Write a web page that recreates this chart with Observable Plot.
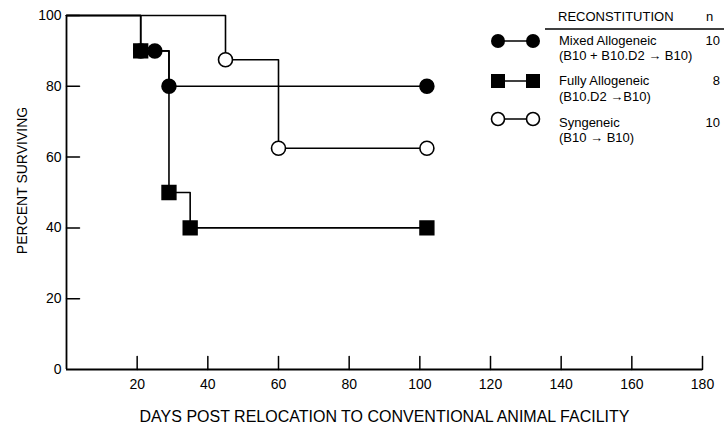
<!DOCTYPE html>
<html>
<head>
<meta charset="utf-8">
<script src="https://cdn.jsdelivr.net/npm/d3@7"></script>
<script src="https://cdn.jsdelivr.net/npm/@observablehq/plot@0.6"></script>
<style>
  html, body { margin: 0; padding: 0; background: #fff; }
  #wrap { position: relative; width: 724px; height: 423px; font-family: "Liberation Sans", Arial, Helvetica, sans-serif; color: #000; }
  #legend { position: absolute; left: 0; top: 0; width: 724px; height: 150px; pointer-events: none; }
  .lt { position: absolute; font-size: 13px; line-height: 1; white-space: nowrap; }
</style>
</head>
<body>
<div id="wrap"></div>
<script>
// ---- data ----
const seriesNames = ["Mixed Allogeneic", "Fully Allogeneic", "Syngeneic"];
const seriesSub = ["(B10 + B10.D2 \u2192 B10)", "(B10.D2 \u2192B10)", "(B10 \u2192 B10)"];
const seriesN = [10, 8, 10];

const mixedDays = [0, 21, 25, 29, 102];
const mixedPct  = [100, 90, 90, 80, 80];

const fullyDays = [0, 21, 29, 35, 102];
const fullyPct  = [100, 90, 50, 40, 40];

const synDays = [0, 45, 60, 102];
const synPct  = [100, 87.5, 62.5, 62.5];

const xTicks = [20, 40, 60, 80, 100, 120, 140, 160, 180];
const yTicks = [0, 20, 40, 60, 80, 100];

// ---- build table ----
function rows(name, days, pct) {
  return days.map((d, i) => ({series: name, day: d, pct: pct[i]}));
}
const mixed = rows(seriesNames[0], mixedDays, mixedPct);
const fully = rows(seriesNames[1], fullyDays, fullyPct);
const syn = rows(seriesNames[2], synDays, synPct);
const all = [...mixed, ...fully, ...syn];
const marks = (arr) => arr.filter(d => d.day > 0);

const spike = {draw(context, l) { context.moveTo(0, 0); context.lineTo(0, -l); }};

const chart = Plot.plot({
  width: 724,
  height: 423,
  marginLeft: 66,
  marginRight: 22,
  marginTop: 15,
  marginBottom: 54,
  style: {fontFamily: "'Liberation Sans', Arial, sans-serif", background: "#fff", color: "#000"},
  x: {domain: [0, 180]},
  y: {domain: [0, 100]},
  marks: [
    Plot.ruleX([0], {y1: 0, y2: 100, stroke: "black", strokeWidth: 1.8}),
    Plot.ruleY([0], {x1: 0, x2: 180, stroke: "black", strokeWidth: 1.8}),
    Plot.vector(xTicks, {x: d => d, y: yTicks[0], length: 13, rotate: 0, anchor: "start", shape: spike, stroke: "black", strokeWidth: 1.5}),
    Plot.vector(yTicks.filter(d => d > 0), {x: xTicks[0] - 20, y: d => d, length: 13, rotate: 90, anchor: "start", shape: spike, stroke: "black", strokeWidth: 1.5}),
    Plot.axisX({ticks: xTicks, tickSize: 0, tickPadding: 10, fontSize: 14,
      label: "DAYS POST RELOCATION TO CONVENTIONAL ANIMAL FACILITY", labelAnchor: "center", labelOffset: 52, labelArrow: false}),
    Plot.axisY({ticks: yTicks, tickSize: 0, tickPadding: 5, fontSize: 14,
      label: "PERCENT SURVIVING", labelAnchor: "center", labelOffset: 52, labelArrow: false}),
    Plot.line(all, {x: "day", y: "pct", z: "series", curve: "step-after", stroke: "black", strokeWidth: 1.6}),
    Plot.dot(marks(syn), {x: "day", y: "pct", r: 7, fill: "white", stroke: "black", strokeWidth: 1.6}),
    Plot.dot(marks(mixed), {x: "day", y: "pct", r: 7, fill: "black", stroke: "black"}),
    Plot.dot(marks(fully), {x: "day", y: "pct", symbol: "square", r: 7.8, fill: "black", stroke: "black"})
  ]
});
const wrap = document.getElementById("wrap");
wrap.appendChild(chart);
// axis label sizes and placement
const xl = chart.querySelector("[aria-label='x-axis label']");
if (xl) { xl.style.fontSize = "16px"; xl.querySelectorAll("text").forEach(t => t.setAttribute("font-size", "16")); }
const yl = chart.querySelector("[aria-label='y-axis label']");
if (yl) {
  yl.style.fontSize = "14px";
  yl.querySelectorAll("text").forEach(t => t.setAttribute("font-size", "14"));
  const old = yl.getAttribute("transform") || "";
  yl.setAttribute("transform", `translate(3,-12) ${old}`);
}

// ---- legend overlay ----
const legend = document.createElement("div");
legend.id = "legend";
const rowY = [41, 81, 119];
const textY = [[41, 56], [81, 97], [123, 138]];
let svg = `<svg width="724" height="150" style="position:absolute;left:0;top:0">
  <line x1="545" x2="724" y1="29" y2="29" stroke="black" stroke-width="1.5"/>`;
seriesNames.forEach((s, i) => {
  const y = rowY[i];
  svg += `<line x1="498" x2="533" y1="${y}" y2="${y}" stroke="black" stroke-width="1.6"/>`;
  [498, 533].forEach(cx => {
    if (i === 0) svg += `<circle cx="${cx}" cy="${y}" r="7" fill="black"/>`;
    if (i === 1) svg += `<rect x="${cx-7}" y="${y-7}" width="14" height="14" fill="black"/>`;
    if (i === 2) svg += `<circle cx="${cx}" cy="${y}" r="6.5" fill="white" stroke="black" stroke-width="1.6"/>`;
  });
});
svg += `</svg>`;
let html = svg;
html += `<div class="lt" style="left:558px;top:10px">RECONSTITUTION</div>`;
html += `<div class="lt" style="left:706px;top:10px">n</div>`;
seriesNames.forEach((s, i) => {
  html += `<div class="lt" style="left:559px;top:${textY[i][0]-7}px">${s}</div>`;
  html += `<div class="lt" style="left:559px;top:${textY[i][1]-7}px">${seriesSub[i]}</div>`;
  html += `<div class="lt" style="right:4px;top:${textY[i][0]-7}px">${seriesN[i]}</div>`;
});
legend.innerHTML = html;
wrap.appendChild(legend);
</script>
</body>
</html>
